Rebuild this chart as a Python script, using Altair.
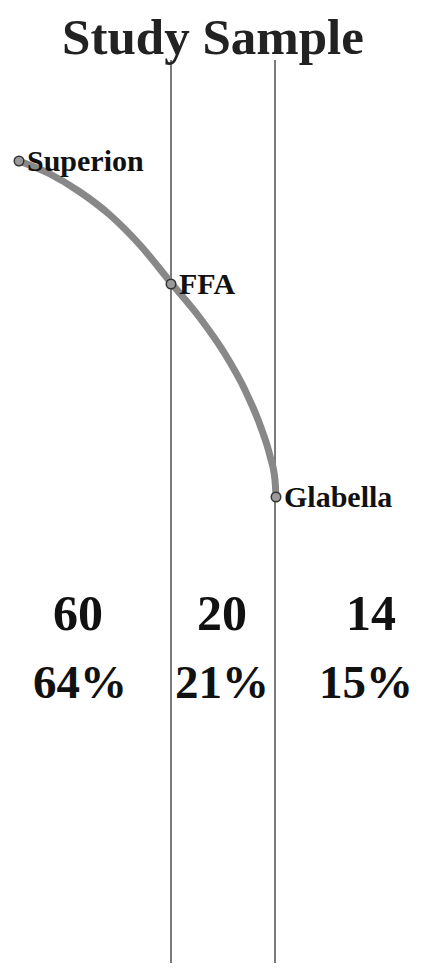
import altair as alt
import pandas as pd

# schematic coordinates (page-pixel units)
curve_x = [19, 50, 80, 110, 140, 172, 200, 225, 245, 260, 270, 275, 276]
curve_y = [161, 174, 192, 215, 245, 284, 318, 354, 390, 425, 456, 480, 497]

landmarks = ["Superion", "FFA", "Glabella"]
land_x = [19, 171, 276]
land_y = [161, 284, 497]

boundaries = [171, 275]

count_x = [78, 222, 371]
pct_x = [80, 222, 366]
counts = [60, 20, 14]
percents = [64, 21, 15]

FONT = "Liberation Serif"
XS = alt.Scale(domain=[8, 414])
YS = alt.Scale(domain=[8, 963], reverse=True)

curve = pd.DataFrame({"x": curve_x, "y": curve_y, "o": range(len(curve_x))})
lm = pd.DataFrame({"name": landmarks, "x": land_x, "y": land_y})
bd = pd.DataFrame({"x": boundaries})
cnt = pd.DataFrame({"x": count_x, "n": [str(c) for c in counts]})
pct = pd.DataFrame({"x": pct_x, "p": [f"{p}%" for p in percents]})
title_df = pd.DataFrame({"x": [213], "y": [54], "t": ["Study Sample"]})

X = lambda: alt.X("x:Q", scale=XS, axis=None)
Y = lambda: alt.Y("y:Q", scale=YS, axis=None)

rules = alt.Chart(bd).mark_rule(color="#333333", strokeWidth=1.3).encode(
    x=X(), y=alt.value(52), y2=alt.value(955))

line = alt.Chart(curve).mark_line(color="#888888", strokeWidth=7,
                                  interpolate="monotone", strokeCap="round").encode(
    x=X(), y=Y(), order="o:Q")

pts = alt.Chart(lm).mark_point(shape="circle", filled=True, size=90, fill="#9a9a9a",
                               stroke="#333333", strokeWidth=1.5, opacity=1).encode(
    x=X(), y=Y())

labels = alt.Chart(lm).mark_text(font=FONT, fontWeight="bold", fontSize=30,
                                 align="left", baseline="middle", dx=8, dy=1,
                                 color="#111111").encode(
    x=X(), y=Y(), text="name:N")

nums = alt.Chart(cnt).mark_text(font=FONT, fontWeight="bold", fontSize=50,
                                align="center", baseline="alphabetic",
                                color="#111111").encode(
    x=X(), y=alt.value(622), text="n:N")

pcts = alt.Chart(pct).mark_text(font=FONT, fontWeight="bold", fontSize=47,
                                align="center", baseline="alphabetic",
                                color="#111111").encode(
    x=X(), y=alt.value(690), text="p:N")

title = alt.Chart(title_df).mark_text(font=FONT, fontWeight="bold", fontSize=51,
                                      align="center", baseline="alphabetic",
                                      color="#222222").encode(
    x=X(), y=Y(), text="t:N")

chart = alt.layer(rules, line, pts, labels, nums, pcts, title).properties(
    width=406, height=955, padding=0,
    autosize=alt.AutoSizeParams(type="none")
).configure_view(stroke=None)

chart.save("out.html", embed_options={"renderer": "svg", "actions": False})
